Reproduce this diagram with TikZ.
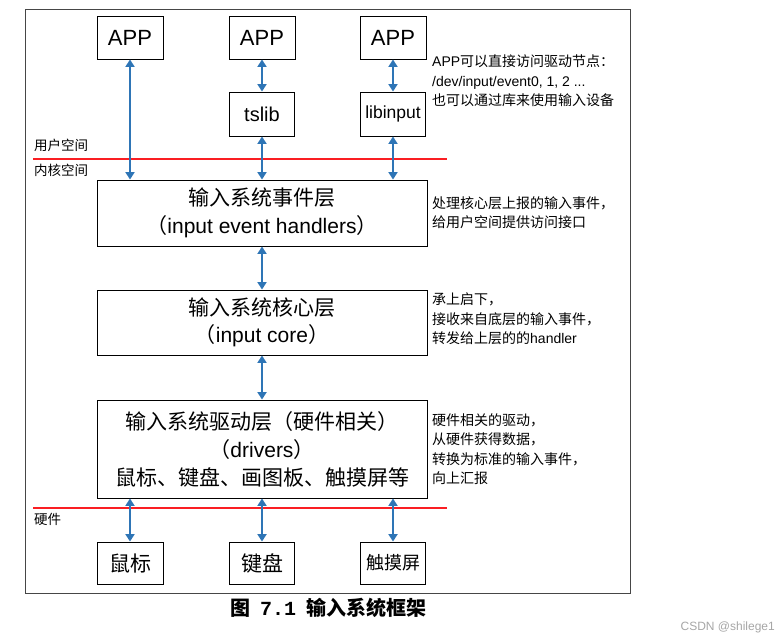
\documentclass[tikz,border=0pt]{standalone}
\usepackage{fontspec}
\setmainfont{Liberation Sans}
\setmonofont{Liberation Mono}
\newfontfamily\zhfont{Noto Sans CJK SC}
\usetikzlibrary{arrows.meta}
\definecolor{arrowblue}{RGB}{46,117,182}
\definecolor{linered}{RGB}{250,30,35}
\definecolor{framegray}{RGB}{70,70,70}
\begin{document}
\begin{tikzpicture}[x=1pt,y=-1pt,
  box/.style={draw=black,line width=0.9pt,fill=white,inner sep=0pt,align=center},
  smallbox/.style={box,minimum width=66pt,minimum height=43pt},
  layerbox/.style={box,minimum width=330pt,font=\fontsize{21}{27.5}\selectfont},
  biarrow/.style={draw=arrowblue,line width=2.2pt,{Triangle[length=7.5pt,width=9pt]}-{Triangle[length=7.5pt,width=9pt]}},
  redline/.style={draw=linered,line width=2.4pt},
  note/.style={anchor=north west,align=left,inner sep=0pt,font=\fontsize{14}{19.5}\selectfont},
  zhnote/.style={note,font=\fontsize{14}{19.5}\selectfont\zhfont},
  side/.style={anchor=west,inner sep=0pt,font=\fontsize{13.5}{15}\selectfont\zhfont},
]
\useasboundingbox (0,0) rectangle (784,641);
\draw[line width=1pt,draw=framegray] (25,9) rectangle (630,593);

% top row
\node[smallbox,font=\fontsize{22}{24}\selectfont] (app1) at (130,37.5) {APP};
\node[smallbox,font=\fontsize{22}{24}\selectfont] (app2) at (262,37.5) {APP};
\node[smallbox,font=\fontsize{22}{24}\selectfont] (app3) at (393,37.5) {APP};
\node[smallbox,minimum width=65pt,minimum height=44pt,font=\fontsize{20}{22}\selectfont] (tslib) at (262,114) {tslib};
\node[smallbox,minimum width=65pt,minimum height=44pt,font=\fontsize{17.5}{20}\selectfont] (libinput) at (393,114) {libinput};

% layers
\node[layerbox,minimum height=66pt] (ev) at (262,213) {{\zhfont 输入系统事件层}\\{\zhfont （}input event handlers{\zhfont ）}};
\node[layerbox,minimum height=65pt] (core) at (262,322.5) {{\zhfont 输入系统核心层}\\{\zhfont （}input core{\zhfont ）}};
\node[layerbox,minimum height=98pt,font=\fontsize{21}{28}\selectfont] (drv) at (262,449) {{\zhfont 输入系统驱动层（硬件相关）}\\{\zhfont （}drivers{\zhfont ）}\\{\zhfont 鼠标、键盘、画图板、触摸屏等}};

% bottom row
\node[smallbox,minimum height=42pt,font=\fontsize{21}{23}\selectfont\zhfont] (mouse) at (130,563) {鼠标};
\node[smallbox,minimum width=65pt,minimum height=42pt,font=\fontsize{21}{23}\selectfont\zhfont] (kbd) at (262,563) {键盘};
\node[smallbox,minimum width=65pt,minimum height=42pt,font=\fontsize{18}{20}\selectfont\zhfont] (touch) at (393,563) {触摸屏};

% red separators
\coordinate (ul) at (33,159); \coordinate (ur) at (447,159);
\coordinate (hl) at (33,508); \coordinate (hr) at (447,508);
\draw[redline] (ul) -- (ur);
\draw[redline] (hl) -- (hr);

% side labels
\node[side] (user) at (34,145) {用户空间};
\node[side] (kern) at (34,170.5) {内核空间};
\node[side] (hw) at (34,519.5) {硬件};

% arrows
\draw[biarrow] (app1.south) -- (app1.south |- ev.north);
\draw[biarrow] (app2.south) -- (tslib.north);
\draw[biarrow] (tslib.south) -- (tslib.south |- ev.north);
\draw[biarrow] (app3.south) -- (libinput.north);
\draw[biarrow] (libinput.south) -- (libinput.south |- ev.north);
\draw[biarrow] (ev.south) -- (core.north);
\draw[biarrow] (core.south) -- (drv.north);
\draw[biarrow] (drv.south -| mouse.north) -- (mouse.north);
\draw[biarrow] (drv.south -| kbd.north) -- (kbd.north);
\draw[biarrow] (drv.south -| touch.north) -- (touch.north);

% notes
\node[note] (n1) at (432,55) {APP{\zhfont 可以直接访问驱动节点：}\\/dev/input/event0, 1, 2 ...\\{\zhfont 也可以通过库来使用输入设备}};
\node[zhnote] (n2) at (432,196) {处理核心层上报的输入事件，\\给用户空间提供访问接口};
\node[note] (n3) at (432,293) {{\zhfont 承上启下，}\\{\zhfont 接收来自底层的输入事件，}\\{\zhfont 转发给上层的的}handler};
\node[zhnote] (n4) at (432,413) {硬件相关的驱动，\\从硬件获得数据，\\转换为标准的输入事件，\\向上汇报};

% caption
\node[inner sep=0pt,font=\fontsize{20}{22}\selectfont\bfseries] (cap) at (328,608) {{\zhfont 图}\hspace{0.5em}{\ttfamily 7.1}\hspace{0.5em}{\zhfont 输入系统框架}};
\node[anchor=east,inner sep=0pt,text=gray!70,font=\fontsize{12}{13}\selectfont] (wm) at (775,627) {CSDN @shilege1};
\end{tikzpicture}
\end{document}
